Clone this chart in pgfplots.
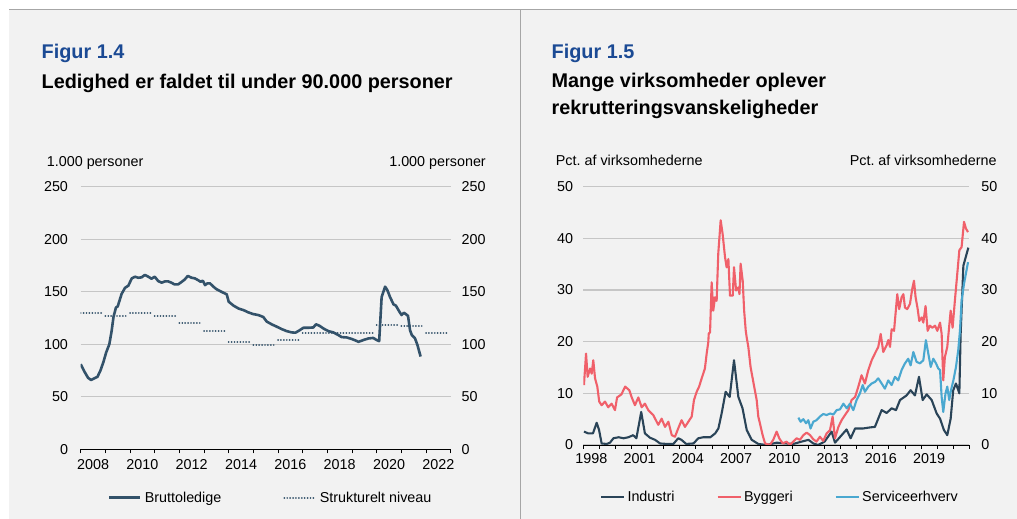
\documentclass[border=0pt]{standalone}
\usepackage{fontspec}
\setmainfont{Liberation Sans}
\usepackage{pgfplots}
\pgfplotsset{compat=1.18}
\definecolor{bg}{HTML}{F2F2F2}
\definecolor{bordergray}{HTML}{A6A6A6}
\definecolor{gridgray}{HTML}{C6C6C6}
\definecolor{titleblue}{HTML}{1B4A94}
\definecolor{slate}{HTML}{33526A}
\definecolor{industri}{HTML}{2A4458}
\definecolor{byggeri}{HTML}{F0606A}
\definecolor{service}{HTML}{4AA8D0}
\newcommand{\tickfont}{\fontsize{14.4}{17}\selectfont}
\newcommand{\titlefont}{\fontsize{19.9}{23}\selectfont\bfseries}

\pgfplotstableread{
x y
2008.00 81
2008.15 74
2008.30 68
2008.42 66
2008.55 67.5
2008.68 69
2008.80 75
2008.92 83
2009.03 92
2009.16 100
2009.25 112
2009.33 126
2009.43 135
2009.50 136
2009.58 142
2009.66 148
2009.80 153.8
2009.93 155.7
2010.07 162.7
2010.20 164.3
2010.33 163.3
2010.47 163.7
2010.60 166
2010.74 164.3
2010.87 162.4
2011.00 164.3
2011.14 160.2
2011.28 158.6
2011.41 159.8
2011.55 159.8
2011.68 158.6
2011.80 157
2011.95 157
2012.10 159.5
2012.22 161.7
2012.34 165
2012.50 163.3
2012.63 162.7
2012.76 161
2012.86 159.5
2012.95 160.5
2013.04 156.3
2013.14 158
2013.24 158
2013.38 154.8
2013.50 152.5
2013.70 150
2013.92 147.5
2014.00 140.5
2014.20 136.7
2014.40 134
2014.60 132.5
2014.80 130.3
2015.00 128.7
2015.20 127.8
2015.40 126
2015.54 121.6
2015.74 119
2015.95 116.7
2016.15 114.4
2016.35 112.5
2016.55 111.3
2016.70 111
2016.82 112.5
2017.03 115.7
2017.23 115.7
2017.43 116
2017.54 119
2017.68 117.6
2017.84 115
2018.04 112.5
2018.24 111.3
2018.45 108.7
2018.58 106.8
2018.78 106.5
2018.99 105
2019.15 103.5
2019.26 102.3
2019.46 104
2019.66 105.5
2019.86 106
2020.00 104
2020.10 103
2020.20 145
2020.34 154.8
2020.43 151.6
2020.54 145
2020.68 138
2020.78 136.7
2020.92 131
2021.01 127.8
2021.10 130
2021.18 128.7
2021.27 127
2021.35 113.5
2021.42 108.9
2021.55 105.7
2021.65 99.4
2021.78 88.3
}\brutto

\pgfplotstableread{
x y
2008.00 129.4
2008.87 129.4
2008.93 nan
2009.00 127.1
2009.87 127.1
2009.93 nan
2010.00 129.4
2010.87 129.4
2010.93 nan
2011.00 127.1
2011.87 127.1
2011.93 nan
2012.00 120.5
2012.87 120.5
2012.93 nan
2013.00 112.9
2013.87 112.9
2013.93 nan
2014.00 102.5
2014.87 102.5
2014.93 nan
2015.00 99.4
2015.87 99.4
2015.93 nan
2016.00 103.8
2016.87 103.8
2016.93 nan
2017.00 110.3
2019.87 110.3
2019.93 nan
2020.00 118
2020.87 118
2020.93 nan
2021.00 117.3
2021.87 117.3
2021.93 nan
2022.00 111
2022.87 111
}\strukt

\pgfplotstableread{
x y
1998.04 2.6
1998.30 2.25
1998.60 2.25
1998.83 4.3
1998.98 2.9
1999.14 0.3
1999.45 0.2
1999.66 0.45
1999.87 1.3
2000.20 1.5
2000.50 1.3
2000.80 1.5
2001.10 1.9
2001.30 1.3
2001.60 6.4
2001.83 2.25
2002.15 1.4
2002.46 1.0
2002.77 0.3
2003.20 0.2
2003.60 0.2
2003.90 1.3
2004.10 1.0
2004.40 0.2
2004.85 0.3
2005.15 1.3
2005.46 1.5
2005.90 1.5
2006.20 2.25
2006.40 3.2
2006.60 6.1
2006.85 10.3
2007.10 9.3
2007.37 16.4
2007.64 9.3
2007.90 7.1
2008.16 2.9
2008.47 1.0
2008.88 0.2
2009.40 0
2010.02 0.45
2010.64 0.3
2011.05 0.2
2011.57 0.65
2012.00 1.0
2012.30 0.3
2012.60 0
2013.00 0.65
2013.44 2.6
2013.65 0.45
2014.06 1.9
2014.37 3.0
2014.62 1.3
2014.90 3.2
2015.40 3.2
2015.82 3.4
2016.13 3.5
2016.55 6.75
2016.86 6.2
2017.17 7.1
2017.44 6.75
2017.69 8.7
2018.10 9.6
2018.35 10.6
2018.62 9.6
2018.87 13.2
2019.10 8.7
2019.35 9.8
2019.66 8.7
2019.97 6.1
2020.18 5.1
2020.42 2.9
2020.63 1.9
2020.84 5.1
2021.00 10.6
2021.17 11.9
2021.38 10.0
2021.46 21.4
2021.63 34.7
2021.94 38.2
}\industri

\pgfplotstableread{
x y
1998.04 11.6
1998.17 17.7
1998.27 13.2
1998.42 14.8
1998.52 13.8
1998.62 16.4
1998.73 12.9
1998.87 11.3
1998.99 8.4
1999.14 7.7
1999.35 8.4
1999.55 7.3
1999.76 8.0
1999.97 6.75
2000.10 9.2
2000.37 9.8
2000.60 11.3
2000.86 10.6
2001.00 9.3
2001.21 7.7
2001.42 9.2
2001.63 7.3
2001.83 8.0
2002.04 6.75
2002.35 5.8
2002.66 3.9
2002.87 5.1
2003.08 3.5
2003.29 4.5
2003.50 1.9
2003.70 1.6
2003.90 3.2
2004.11 4.8
2004.32 3.5
2004.53 4.5
2004.74 5.5
2004.88 8.7
2005.05 10.3
2005.20 11.3
2005.36 12.9
2005.56 14.8
2005.67 17.7
2005.77 19.9
2005.80 21.6
2005.88 21.8
2005.98 31.5
2006.08 26.0
2006.19 28.6
2006.29 27.9
2006.39 37.0
2006.54 43.5
2006.66 40.9
2006.81 36.4
2006.91 34.4
2007.02 36.0
2007.12 28.9
2007.29 28.9
2007.37 34.4
2007.50 29.9
2007.64 30.5
2007.71 29.2
2007.78 35.1
2007.91 31.8
2008.00 26.0
2008.10 22.1
2008.16 20.8
2008.26 19.0
2008.40 15.1
2008.57 12.2
2008.78 8.7
2008.88 5.5
2008.98 4.2
2009.15 1.9
2009.30 0.3
2009.60 0
2009.81 1.0
2010.02 2.6
2010.18 1.3
2010.40 0.3
2010.64 0.65
2010.85 0
2011.05 0.65
2011.26 1.3
2011.47 1.0
2011.68 1.9
2011.89 2.4
2012.10 1.9
2012.30 1.1
2012.50 0.65
2012.71 1.6
2012.92 0.8
2013.13 2.25
2013.34 2.9
2013.50 5.5
2013.65 1.3
2013.86 3.5
2014.06 4.8
2014.27 5.8
2014.48 6.75
2014.68 8.7
2014.90 9.3
2015.10 11.3
2015.30 13.5
2015.51 11.9
2015.72 14.5
2015.93 16.4
2016.13 17.7
2016.34 19.0
2016.49 21.5
2016.65 18.0
2016.86 19.3
2016.96 20.3
2017.07 19.0
2017.17 22.4
2017.32 22.1
2017.52 29.2
2017.64 26.3
2017.79 28.6
2017.90 29.2
2018.00 26.6
2018.14 26.3
2018.31 27.3
2018.45 30.2
2018.56 31.8
2018.66 28.6
2018.79 26.3
2018.89 24.0
2019.04 24.7
2019.14 23.7
2019.28 26.9
2019.41 22.1
2019.55 23.1
2019.70 22.7
2019.87 23.1
2020.01 22.1
2020.18 23.7
2020.28 21.5
2020.38 12.5
2020.48 17.0
2020.63 19.0
2020.84 26.0
2020.96 22.7
2021.11 28.2
2021.25 33.1
2021.38 37.7
2021.52 38.3
2021.67 43.2
2021.79 41.9
2021.92 41.2
}\byggeri

\pgfplotstableread{
x y
2011.37 5.3
2011.51 4.5
2011.68 5.0
2011.85 4.2
2011.99 4.8
2012.13 3.2
2012.30 4.5
2012.50 4.8
2012.71 5.5
2012.92 6.0
2013.13 5.8
2013.34 6.1
2013.55 5.9
2013.75 6.75
2013.96 6.9
2014.17 8.0
2014.38 7.1
2014.58 8.0
2014.79 6.75
2014.99 8.7
2015.20 10.0
2015.37 11.6
2015.51 10.3
2015.72 11.3
2015.93 11.9
2016.13 12.2
2016.34 12.9
2016.55 11.9
2016.75 10.9
2016.96 12.5
2017.17 11.6
2017.38 13.2
2017.58 12.5
2017.79 14.5
2018.00 15.8
2018.20 16.7
2018.35 15.4
2018.52 18.0
2018.72 16.1
2018.93 15.8
2019.14 16.4
2019.30 20.3
2019.45 17.7
2019.60 15.1
2019.76 16.7
2019.93 15.8
2020.07 14.8
2020.18 14.5
2020.28 9.3
2020.38 6.4
2020.52 10.0
2020.63 11.3
2020.75 8.7
2020.86 10.6
2021.01 12.5
2021.17 15.1
2021.31 18.3
2021.42 22.2
2021.52 27.9
2021.67 31.2
2021.92 35.4
}\service

\pgfplotsset{
  panel/.style={
    scale only axis,
    axis x line*=bottom, axis y line*=left,
    x axis line style={-, black, line width=0.9bp},
    y axis line style={draw=none},
    ymajorgrids, grid style={gridgray, line width=1.4bp},
    major tick length=0pt, minor tick length=4bp, tick align=outside,
    minor tick style={black, line width=0.9bp},
    tick label style={font=\tickfont, text=black},
    /pgf/number format/assume math mode=true,
    legend image code/.code={\draw[#1] (0bp,0bp) -- (\pgfkeysvalueof{/pgfplots/legendlen},0bp);},
    legend style={draw=none, fill=none, inner sep=0pt, outer sep=0pt,
      font=\tickfont, nodes={inner sep=0pt, anchor=west}},
    legend columns=-1,
  },
  /pgfplots/legendlen/.initial=31bp,
  rightlabels/.style={
    scale only axis, hide x axis,
    axis y line*=right, y axis line style={draw=none},
    major tick length=0pt,
    tick label style={font=\tickfont, text=black},
    /pgf/number format/assume math mode=true,
  },
}

\begin{document}
\frenchspacing
\begin{tikzpicture}[x=1bp,y=1bp]
\path[use as bounding box] (0,0) rectangle (1017,519);
\fill[white] (0,0) rectangle (1017,519);
\fill[bg] (9,0) rectangle (1017,509.5);
\draw[bordergray, line width=1bp] (9,509.5) -- (1017,509.5);
\draw[bordergray, line width=1bp] (520,0) -- (520,509.5);

% titles
\node[anchor=base west, inner sep=0pt, text=titleblue, font=\titlefont] at (41.5,460.3) {Figur 1.4};
\node[anchor=base west, inner sep=0pt, font=\titlefont] at (41.5,430) {Ledighed er faldet til under 90.000 personer};
\node[anchor=base west, inner sep=0pt, text=titleblue, font=\titlefont] at (551.5,460.3) {Figur 1.5};
\node[anchor=base west, inner sep=0pt, font=\titlefont] at (551.5,431.5) {Mange virksomheder oplever};
\node[anchor=base west, inner sep=0pt, font=\titlefont] at (551.5,404.5) {rekrutteringsvanskeligheder};

% unit labels
\node[anchor=base west, inner sep=0pt, font=\tickfont] at (46.7,352.7) {1.000 personer};
\node[anchor=base east, inner sep=0pt, font=\tickfont] at (486,352.7) {1.000 personer};
\node[anchor=base west, inner sep=0pt, font=\tickfont] at (555.7,353.3) {Pct. af virksomhederne};
\node[anchor=base east, inner sep=0pt, font=\tickfont] at (996.7,353.3) {Pct. af virksomhederne};

% ---------- left panel ----------
\begin{axis}[panel,
  at={(80.7bp,69.7bp)}, anchor=south west,
  width=370bp, height=262.6bp,
  xmin=2008, xmax=2023, ymin=0, ymax=250,
  ytick={0,50,...,250},
  xtick={2008.5,2010.5,2012.5,2014.5,2016.5,2018.5,2020.5,2022.5},
  xticklabels={2008,2010,2012,2014,2016,2018,2020,2022},
  minor xtick={2008,2009,...,2023},
  xticklabel style={yshift=-6.5bp},
  yticklabel style={xshift=-9.2bp},
  unbounded coords=jump,
  legendlen=31bp,
  legend style={at={(0.073,-0.184)}, anchor=west,
    /tikz/every odd column/.append style={column sep=3.5bp},
    /tikz/every even column/.append style={column sep=62bp}},
]
\addplot[slate, line width=2.6bp, line join=round] table[x=x,y=y] {\brutto};
\addlegendentry{Bruttoledige}
\addplot[slate, line width=1.9bp, line cap=round, dash pattern=on 0.01bp off 2.9bp] table[x=x,y=y] {\strukt};
\addlegendentry{Strukturelt niveau}
\end{axis}
\begin{axis}[rightlabels,
  at={(80.7bp,69.7bp)}, anchor=south west,
  width=370bp, height=262.6bp,
  xmin=2008, xmax=2023, ymin=0, ymax=250,
  ytick={0,50,...,250},
  yticklabel style={xshift=7.5bp},
]
\end{axis}

% ---------- right panel ----------
\begin{axis}[panel,
  at={(583.3bp,74bp)}, anchor=south west,
  width=386bp, height=258.3bp,
  xmin=1998, xmax=2022, ymin=0, ymax=50,
  ytick={0,10,...,50},
  xtick={1998.5,2001.5,2004.5,2007.5,2010.5,2013.5,2016.5,2019.5},
  xticklabels={1998,2001,2004,2007,2010,2013,2016,2019},
  minor xtick={1998,1999,...,2022},
  xticklabel style={yshift=-5.2bp},
  yticklabel style={xshift=-6.8bp},
  legendlen=23bp,
  legend style={at={(0.0433,-0.200)}, anchor=west,
    /tikz/every odd column/.append style={column sep=2.4bp},
    /tikz/every even column/.append style={column sep=42bp}},
]
\addplot[industri, line width=2.1bp, line join=round] table[x=x,y=y] {\industri};
\addlegendentry{Industri}
\addplot[byggeri, line width=2.1bp, line join=round] table[x=x,y=y] {\byggeri};
\addlegendentry{Byggeri}
\addplot[service, line width=2.1bp, line join=round] table[x=x,y=y] {\service};
\addlegendentry{Serviceerhverv}
\end{axis}
\begin{axis}[rightlabels,
  at={(583.3bp,74bp)}, anchor=south west,
  width=386bp, height=258.3bp,
  xmin=1998, xmax=2022, ymin=0, ymax=50,
  ytick={0,10,...,50},
  yticklabel style={xshift=8.6bp},
]
\end{axis}
\end{tikzpicture}
\end{document}
